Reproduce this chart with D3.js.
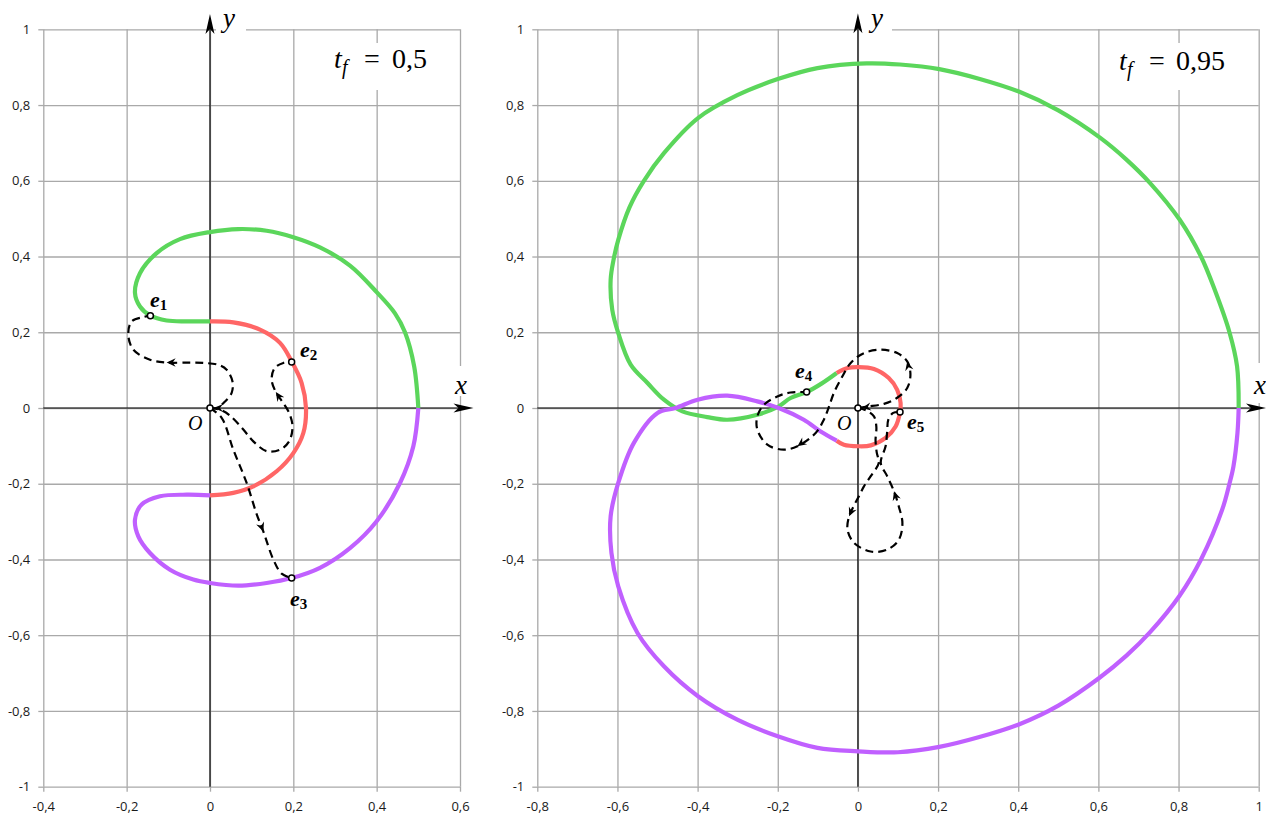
<!DOCTYPE html>
<html><head><meta charset="utf-8">
<script src="https://cdn.jsdelivr.net/npm/d3@7"></script>
<style>body{margin:0;background:#fff}svg{display:block}</style>
</head><body><svg id="c" width="1266" height="814"></svg>
<script>
// ---------------- DATA ----------------
const yTicks = [-1,-0.8,-0.6,-0.4,-0.2,0,0.2,0.4,0.6,0.8,1];
const yTickLabels = ["-1","-0,8","-0,6","-0,4","-0,2","0","0,2","0,4","0,6","0,8","1"];
const leftXTicks = [-0.4,-0.2,0,0.2,0.4,0.6];
const leftXTickLabels = ["-0,4","-0,2","0","0,2","0,4","0,6"];
const rightXTicks = [-0.8,-0.6,-0.4,-0.2,0,0.2,0.4,0.6,0.8,1];
const rightXTickLabels = ["-0,8","-0,6","-0,4","-0,2","0","0,2","0,4","0,6","0,8","1"];
const leftTf = "0,5";
const rightTf = "0,95";

// left panel (t_f = 0,5)
const leftGreen = [[0.5,0],[0.49,0.11],[0.468,0.2],[0.444,0.25],[0.4,0.306],[0.336,0.376],[0.264,0.424],[0.2,0.451],[0.136,0.468],[0.068,0.4725],[0,0.4646],[-0.072,0.446],[-0.128,0.409],[-0.168,0.356],[-0.18,0.304],[-0.168,0.268],[-0.143,0.2437],[-0.104,0.231],[-0.056,0.2287],[0,0.2287]];
const leftRed = [[0,0.2287],[0.056,0.226],[0.12,0.207],[0.168,0.172],[0.196,0.123],[0.22,0.066],[0.2304,0],[0.224,-0.066],[0.2,-0.119],[0.16,-0.167],[0.104,-0.207],[0.056,-0.224],[0,-0.2307]];
const leftPurple = [[0,-0.2307],[-0.056,-0.229],[-0.12,-0.233],[-0.164,-0.255],[-0.18,-0.295],[-0.172,-0.339],[-0.144,-0.383],[-0.096,-0.427],[-0.04,-0.453],[0,-0.462],[0.068,-0.469],[0.136,-0.462],[0.196,-0.449],[0.264,-0.422],[0.336,-0.37],[0.4,-0.299],[0.456,-0.198],[0.488,-0.101],[0.5,0]];
const leftPathE1 = [[0,0],[0.016,0],[0.036,0.017],[0.052,0.04],[0.054,0.07],[0.04,0.101],[0.02,0.114],[-0.016,0.119],[-0.048,0.12],[-0.104,0.12],[-0.144,0.1275],[-0.184,0.154],[-0.196,0.1935],[-0.188,0.2286],[-0.16,0.24],[-0.143,0.2437]];
const leftPathE2 = [[0,0],[0.025,-0.005],[0.048,-0.02],[0.08,-0.057],[0.104,-0.088],[0.136,-0.114],[0.168,-0.11],[0.19,-0.088],[0.198,-0.049],[0.19,-0.013],[0.174,0.016],[0.158,0.042],[0.148,0.075],[0.155,0.105],[0.176,0.119],[0.196,0.1214]];
const leftPathE3 = [[0,0],[0.028,-0.026],[0.056,-0.11],[0.088,-0.198],[0.112,-0.28],[0.128,-0.326],[0.152,-0.4],[0.172,-0.4375],[0.196,-0.449]];
const leftPoints = [[0,0],[-0.143,0.2437],[0.196,0.1214],[0.196,-0.449]];

// right panel (t_f = 0,95)
const rightGreen = [[0.95,0],[0.946,0.11],[0.927,0.2],[0.891,0.31],[0.856,0.4],[0.803,0.497],[0.729,0.594],[0.67,0.656],[0.604,0.714],[0.5,0.786],[0.403,0.835],[0.304,0.869],[0.203,0.895],[0.105,0.907],[0.022,0.91],[-0.101,0.8976],[-0.2,0.8685],[-0.301,0.826],[-0.399,0.7656],[-0.484,0.673],[-0.534,0.6],[-0.57,0.53],[-0.598,0.444],[-0.61,0.39],[-0.617,0.3387],[-0.613,0.2595],[-0.598,0.198],[-0.567,0.1143],[-0.525,0.066],[-0.484,0.0219],[-0.438,-0.009],[-0.376,-0.024],[-0.326,-0.031],[-0.251,-0.0177],[-0.2,0.0026],[-0.168,0.0264],[-0.128,0.042],[-0.09,0.065],[-0.053,0.0924]];
const rightRed = [[-0.053,0.0924],[-0.026,0.1056],[0.001,0.108],[0.04,0.103],[0.077,0.079],[0.098,0.048],[0.1065,0.013],[0.105,-0.0106],[0.094,-0.0486],[0.069,-0.079],[0.032,-0.0987],[0.001,-0.101],[-0.035,-0.097],[-0.053,-0.0863]];
const rightPurple = [[-0.053,-0.0863],[-0.093,-0.062],[-0.135,-0.031],[-0.193,-0.002],[-0.251,0.0174],[-0.326,0.0325],[-0.4,0.022],[-0.455,0],[-0.5,-0.013],[-0.559,-0.092],[-0.598,-0.198],[-0.617,-0.286],[-0.615,-0.383],[-0.598,-0.471],[-0.55,-0.594],[-0.484,-0.682],[-0.399,-0.761],[-0.301,-0.823],[-0.2,-0.867],[-0.101,-0.8976],[0,-0.9065],[0.1,-0.909],[0.203,-0.895],[0.303,-0.869],[0.403,-0.835],[0.5,-0.786],[0.602,-0.713],[0.67,-0.654],[0.729,-0.592],[0.803,-0.495],[0.856,-0.4],[0.909,-0.268],[0.927,-0.2],[0.937,-0.154],[0.947,-0.066],[0.95,0]];
const rightPathE4 = [[0,0],[0.0235,0.004],[0.065,0.011],[0.098,0.027],[0.123,0.053],[0.131,0.088],[0.123,0.123],[0.098,0.145],[0.057,0.154],[0.015,0.145],[-0.018,0.119],[-0.039,0.083],[-0.06,0.04],[-0.072,0.004],[-0.085,-0.031],[-0.1055,-0.066],[-0.151,-0.101],[-0.185,-0.11],[-0.226,-0.097],[-0.251,-0.057],[-0.251,-0.022],[-0.2345,0.0087],[-0.201,0.0306],[-0.168,0.041],[-0.128,0.042]];
const rightPathE5 = [[0,0],[0.02,-0.006],[0.04,-0.022],[0.046,-0.05],[0.044,-0.085],[0.047,-0.118],[0.052,-0.145],[0.032,-0.18],[0.015,-0.207],[0.0025,-0.233],[-0.012,-0.262],[-0.022,-0.286],[-0.026,-0.321],[-0.01,-0.356],[0.032,-0.379],[0.073,-0.374],[0.102,-0.348],[0.111,-0.304],[0.102,-0.26],[0.09,-0.22],[0.073,-0.18],[0.057,-0.145],[0.069,-0.101],[0.073,-0.062],[0.076,-0.03],[0.088,-0.013],[0.105,-0.0106]];
const rightPoints = [[0,0],[-0.128,0.042],[0.105,-0.0106]];

// ---------------- DRAWING ----------------
const COLORS = {green:"#5bd65b", red:"#ff6666", purple:"#c060ff", grid:"#a9a9a9"};
const svg = d3.select("#c");
svg.append("rect").attr("width",1266).attr("height",814).attr("fill","#fff");

function arrowHead(g, p, ang, L, W, N, color){
  g.append("path")
   .attr("d", `M0,0 L${-L},${-W} L${-N},0 L${-L},${W} Z`)
   .attr("transform", `translate(${p[0]},${p[1]}) rotate(${ang*180/Math.PI})`)
   .attr("fill", color);
}

function panel(cfg){
  const g = svg.append("g");
  const x = d3.scaleLinear().domain(cfg.xDomain).range(cfg.xRange);
  const y = d3.scaleLinear().domain([-1,1]).range([786.7,29.3]);
  const [X0,X1] = cfg.xRange, Y0 = y(1), Y1 = y(-1);

  const gx = g.append("g").attr("transform",`translate(0,${Y1})`)
    .call(d3.axisBottom(x).tickValues(cfg.xTicks).tickSize(-(Y1-Y0)).tickFormat(""));
  const gy = g.append("g").attr("transform",`translate(${X0},0)`)
    .call(d3.axisLeft(y).tickValues(yTicks).tickSize(-(X1-X0)).tickFormat(""));
  [gx,gy].forEach(a=>{ a.select(".domain").remove(); a.selectAll(".tick line").attr("stroke",COLORS.grid).attr("stroke-width",1.3); });
  g.append("g").attr("transform",`translate(0,${Y1})`)
    .call(d3.axisBottom(x).tickValues(cfg.xTicks).tickSize(5).tickFormat((d,i)=>cfg.xTickLabels[i]))
    .call(a=>{a.select(".domain").remove(); a.selectAll(".tick line").attr("stroke",COLORS.grid).attr("stroke-width",1.3);
      a.selectAll("text").attr("font-family","Open Sans").attr("font-size",13).attr("fill","#1a1a1a").attr("dy",0).attr("y",24);});
  g.append("g").attr("transform",`translate(${X0},0)`)
    .call(d3.axisLeft(y).tickValues(yTicks).tickSize(5).tickFormat((d,i)=>yTickLabels[i]))
    .call(a=>{a.select(".domain").remove(); a.selectAll(".tick line").attr("stroke",COLORS.grid).attr("stroke-width",1.3);
      a.selectAll("text").attr("font-family","Open Sans").attr("font-size",13).attr("fill","#1a1a1a").attr("x",-13);});

  cfg.boxes.forEach(r=> g.append("rect").attr("x",r[0]).attr("y",r[1]).attr("width",r[2]).attr("height",r[3]).attr("fill","#fff"));

  g.append("line").attr("x1",X0).attr("x2",cfg.xArrowTip-8).attr("y1",y(0)).attr("y2",y(0)).attr("stroke","#000").attr("stroke-width",1.2);
  arrowHead(g,[cfg.xArrowTip,y(0)],0,20,4.5,15,"#000");
  g.append("line").attr("x1",x(0)).attr("x2",x(0)).attr("y1",Y1).attr("y2",cfg.yArrowTip+8).attr("stroke","#000").attr("stroke-width",1.2);
  arrowHead(g,[x(0),cfg.yArrowTip],-Math.PI/2,20,4.5,15,"#000");

  const line = d3.line().x(d=>x(d[0])).y(d=>y(d[1])).curve(d3.curveCatmullRom.alpha(0.5));
  [[cfg.green,COLORS.green],[cfg.red,COLORS.red],[cfg.purple,COLORS.purple]].forEach(([pts,c])=>{
    g.append("path").attr("d",line(pts)).attr("fill","none").attr("stroke",c).attr("stroke-width",4.2).attr("stroke-linecap","butt").attr("stroke-linejoin","round");
  });

  cfg.dashes.forEach(dd=>{
    g.append("path").attr("d",line(dd.pts)).attr("fill","none").attr("stroke","#000").attr("stroke-width",2.2).attr("stroke-dasharray","8,5");
    dd.arrows.forEach(i=>{
      const p=dd.pts[i], q=dd.pts[i-1];
      const ang=Math.atan2(y(p[1])-y(q[1]), x(p[0])-x(q[0]));
      arrowHead(g,[x(p[0]),y(p[1])],ang,9,4.2,6,"#000");
    });
    if(dd.startArrow){
      const p=dd.pts[1], q=dd.pts[0];
      const ang=Math.atan2(y(q[1])-y(p[1]), x(q[0])-x(p[0]));
      arrowHead(g,[x(q[0])+4,y(q[1])],ang,9,4,6,"#000");
    }
  });

  cfg.points.forEach(p=> g.append("circle").attr("cx",x(p[0])).attr("cy",y(p[1])).attr("r",3).attr("fill","#fff").attr("stroke","#000").attr("stroke-width",1.5));

  const serif = "Liberation Serif";
  g.append("text").attr("x",x(0)+13).attr("y",27).attr("font-family",serif).attr("font-style","italic").attr("font-size",27).text("y");
  g.append("text").attr("x",cfg.xLabelX).attr("y",y(0)-14).attr("font-family",serif).attr("font-style","italic").attr("font-size",27).text("x");
  g.append("text").attr("x",cfg.oLabel[0]).attr("y",cfg.oLabel[1]).attr("font-family",serif).attr("font-style","italic").attr("font-size",20).text("O");
  cfg.eLabels.forEach(e=>{
    const t=g.append("text").attr("x",e.x).attr("y",e.y).attr("font-family",serif).attr("font-style","italic").attr("font-weight","bold").attr("font-size",22);
    t.append("tspan").text("e");
    t.append("tspan").attr("font-size",15).attr("dy",3).attr("font-style","normal").text(e.s);
  });
  const tt=cfg.title;
  g.append("text").attr("x",tt.x).attr("y",tt.y).attr("font-family",serif).attr("font-style","italic").attr("font-size",28).text("t");
  g.append("text").attr("x",tt.x+8).attr("y",tt.y+6).attr("font-family",serif).attr("font-style","italic").attr("font-size",20).text("f");
  g.append("text").attr("x",tt.x+30).attr("y",tt.y).attr("font-family",serif).attr("font-size",28).text("=");
  g.append("text").attr("x",tt.vx).attr("y",tt.y).attr("font-family",serif).attr("font-size",28).text(tt.v);
}

panel({
  xDomain:[-0.4,0.6], xRange:[43.3,460], xTicks:leftXTicks, xTickLabels:leftXTickLabels,
  green:leftGreen, red:leftRed, purple:leftPurple,
  dashes:[{pts:leftPathE1,arrows:[9],startArrow:true},{pts:leftPathE2,arrows:[11]},{pts:leftPathE3,arrows:[5]}],
  points:leftPoints,
  boxes:[[326,43,110,47],[216,10,30,30],[450,366,20,30]],
  xArrowTip:473.5, yArrowTip:14, xLabelX:455, oLabel:[188,430],
  eLabels:[{x:150,y:307,s:"1"},{x:300,y:357,s:"2"},{x:290,y:606,s:"3"}],
  title:{x:334,y:68,vx:392,v:leftTf}
});
panel({
  xDomain:[-0.8,1.0], xRange:[537.3,1258.7], xTicks:rightXTicks, xTickLabels:rightXTickLabels,
  green:rightGreen, red:rightRed, purple:rightPurple,
  dashes:[{pts:rightPathE4,arrows:[6,16],startArrow:true},{pts:rightPathE5,arrows:[11,19]}],
  points:rightPoints,
  boxes:[[1108,43,128,47],[862,10,30,30],[1248,363,18,40]],
  xArrowTip:1266, yArrowTip:13.3, xLabelX:1254, oLabel:[837,430],
  eLabels:[{x:795,y:378,s:"4"},{x:907,y:429,s:"5"}],
  title:{x:1119,y:70,vx:1176,v:rightTf}
});
</script></body></html>
